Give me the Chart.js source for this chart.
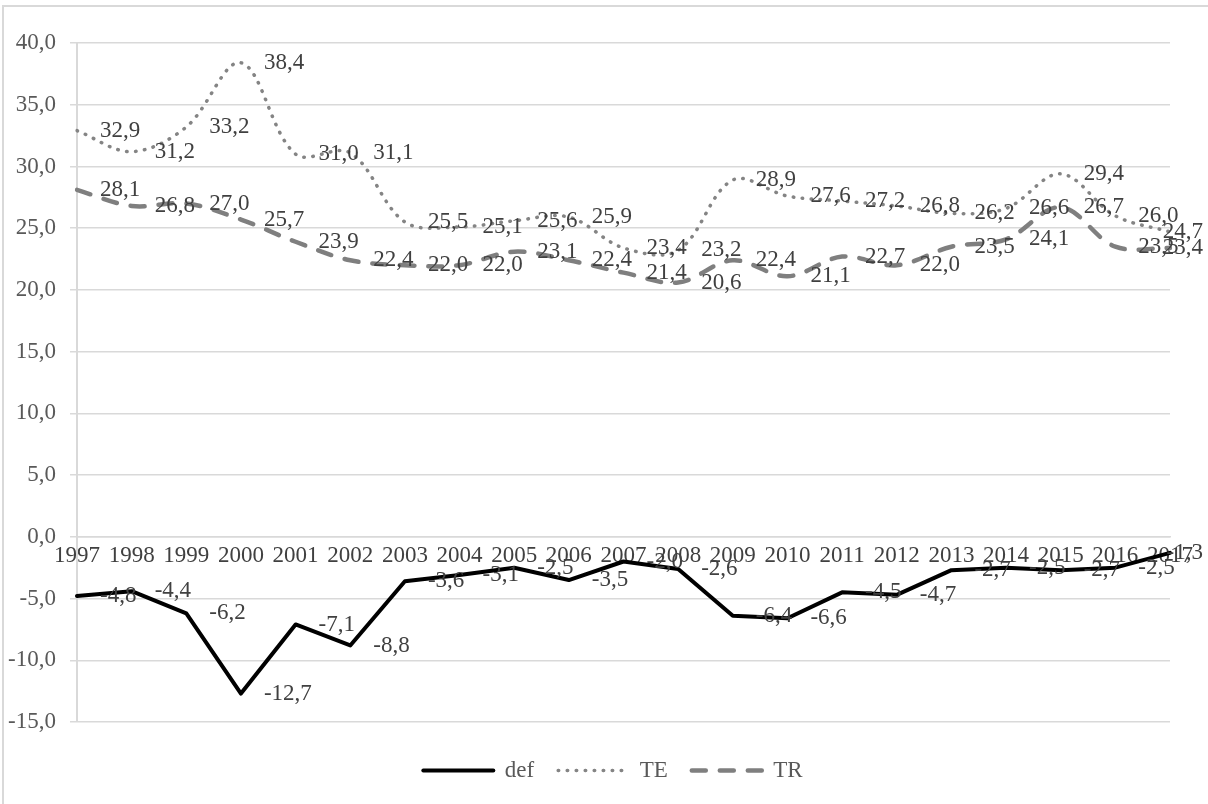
<!DOCTYPE html>
<html>
<head>
<meta charset="utf-8">
<script src="https://cdn.jsdelivr.net/npm/chart.js@4.4.1/dist/chart.umd.min.js"></script>
<style>
  html, body { margin: 0; padding: 0; background: #fff; overflow: hidden; }
  #frame { position: absolute; left: 2px; top: 5px; width: 1400px; height: 1000px; border: 2px solid #d9d9d9; }
  #chart { position: absolute; left: 0; top: 0; }
</style>
</head>
<body>
<div id="frame"></div>
<canvas id="chart" width="1208" height="804"></canvas>
<script>
const years = ['1997','1998','1999','2000','2001','2002','2003','2004','2005','2006','2007',
  '2008','2009','2010','2011','2012','2013','2014','2015','2016','2017'];
const def = [-4.8, -4.4, -6.2, -12.7, -7.1, -8.8, -3.6, -3.1, -2.5, -3.5, -2.0,
  -2.6, -6.4, -6.6, -4.5, -4.7, -2.7, -2.5, -2.7, -2.5, -1.3];
const te = [32.9, 31.2, 33.2, 38.4, 31.0, 31.1, 25.5, 25.1, 25.6, 25.9, 23.4,
  23.2, 28.9, 27.6, 27.2, 26.8, 26.2, 26.6, 29.4, 26.0, 24.7];
const tr = [28.1, 26.8, 27.0, 25.7, 23.9, 22.4, 22.0, 22.0, 23.1, 22.4, 21.4,
  20.6, 22.4, 21.1, 22.7, 22.0, 23.5, 24.1, 26.7, 23.5, 23.4];

const serif = "'Liberation Serif', 'Times New Roman', serif";
const fontSize = 23;
const comma = v => Number(v).toFixed(1).replace('.', ',');

// value labels to the right of each point, like excel's "right" position
const valueLabels = {
  id: 'valueLabels',
  afterDatasetsDraw(chart) {
    const ctx = chart.ctx;
    ctx.save();
    ctx.font = fontSize + 'px ' + serif;
    ctx.fillStyle = '#404040';
    ctx.textAlign = 'left';
    ctx.textBaseline = 'middle';
    chart.data.datasets.forEach((ds, i) => {
      chart.getDatasetMeta(i).data.forEach((pt, j) => {
        const txt = comma(ds.data[j]);
        const w = ctx.measureText(txt).width;
        // excel pulls the last labels back inside the chart
        const x = Math.min(pt.x + 23, chart.width - 5 - w);
        ctx.fillText(txt, x, pt.y);
      });
    });
    ctx.restore();
  }
};

// nudge the legend down/right to where excel put it
const legendOffset = {
  id: 'legendOffset',
  afterUpdate(chart) {
    const lg = chart.legend;
    lg.top += 13; lg.bottom += 13;
    lg.left += 28; lg.right += 28;
  }
};

new Chart(document.getElementById('chart'), {
  type: 'line',
  data: {
    labels: years,
    datasets: [
      { label: 'def', data: def, borderColor: '#000', borderWidth: 4, tension: 0,
        pointRadius: 0, borderCapStyle: 'round', borderJoinStyle: 'round' },
      { label: 'TE', data: te, borderColor: '#848484', borderWidth: 3.5, tension: 0.35,
        pointRadius: 0, borderDash: [0.5, 8.5], borderCapStyle: 'round' },
      { label: 'TR', data: tr, borderColor: '#7f7f7f', borderWidth: 4.5, tension: 0.35,
        pointRadius: 0, borderDash: [14, 14], borderCapStyle: 'round' }
    ]
  },
  options: {
    responsive: false,
    animation: false,
    layout: { padding: { left: 0, right: 38, top: 43, bottom: 25 } },
    scales: {
      x: {
        position: { y: 0 },
        offset: false,
        grid: { display: true, drawOnChartArea: false, drawTicks: false },
        border: { display: true, color: '#d9d9d9', width: 1.5 },
        ticks: { padding: 5, color: '#404040', font: { family: serif, size: fontSize },
          maxRotation: 0, autoSkip: false }
      },
      y: {
        min: -15, max: 40,
        ticks: { stepSize: 5, padding: 14, color: '#595959', font: { family: serif, size: fontSize },
          callback: v => comma(v) },
        grid: { color: '#d9d9d9', lineWidth: 1.5, tickLength: 7 },
        border: { display: true, color: '#d9d9d9', width: 2 },
        afterFit(s) { s.width = 77; }
      }
    },
    plugins: {
      legend: {
        position: 'bottom',
        labels: {
          usePointStyle: true, pointStyle: 'line', pointStyleWidth: 70,
          padding: 24, color: '#595959', font: { family: serif, size: fontSize },
          generateLabels(chart) {
            return chart.data.datasets.map((ds, i) => ({
              text: ds.label,
              datasetIndex: i,
              pointStyle: 'line',
              fillStyle: ds.borderColor,
              strokeStyle: ds.borderColor,
              lineWidth: ds.borderWidth,
              lineDash: ds.borderDash || [],
              lineCap: ds.borderCapStyle || 'butt',
              fontColor: '#595959',
              hidden: false
            }));
          }
        }
      },
      tooltip: { enabled: false }
    }
  },
  plugins: [valueLabels, legendOffset]
});
</script>
</body>
</html>
